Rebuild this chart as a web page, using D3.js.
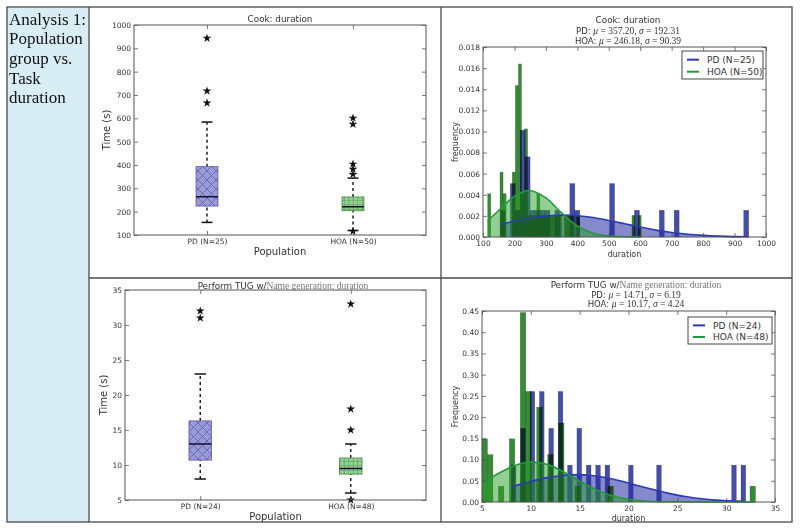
<!DOCTYPE html>
<html><head><meta charset="utf-8">
<script src="https://cdn.jsdelivr.net/npm/d3@7"></script>
<style>
body{margin:0;background:#fff}
svg{display:block}
text{font-family:"DejaVu Sans",sans-serif;fill:#333}
</style>
</head><body>
<svg id="c" width="800" height="531"></svg>
<script>
// ---------------- DATA ----------------
const sideText = ["Analysis 1:", "Population", "group vs.", "Task", "duration"];
const cookLabels = ["PD (N=25)", "HOA (N=50)"];
const tugLabels = ["PD (N=24)", "HOA (N=48)"];
const cookYTicks = [100,200,300,400,500,600,700,800,900,1000];
const tugYTicks = [5,10,15,20,25,30,35];
// box stats: [lower whisker, Q1, median, Q3, upper whisker]
const cookBoxPD = [154, 224, 264, 393, 584];
const cookBoxHOA = [119, 204, 221, 263, 344];
const cookOutPD = [666, 717, 943];
const cookOutHOA = [116, 360, 382, 404, 575, 601];
const tugBoxPD = [8, 10.7, 13, 16.3, 23];
const tugBoxHOA = [6, 8.7, 9.5, 11, 13];
const tugOutPD = [31, 32];
const tugOutHOA = [5, 15, 18, 33];
// histogram samples (durations, s)
const cookPD = [155,190,198,210,220,225,228,232,237,242,247,265,272,290,305,336,380,390,400,508,512,585,668,718,945];
const cookHOA = [115,118,156,159,162,166,170,195,198,201,203,205,206,208,209,210,212,213,214,216,217,218,219,220,222,225,230,233,235,237,238,240,245,256,265,273,278,285,297,306,318,327,335,345,360,372,383,405,577,603];
const tugPD = [8,9,9,10,10,10,11,11,11,12,12,13,13,13,14,15,15,16,17,18,20,23,31,32];
const tugHOA = [5,5,5,5,6,6,6,7,8,8,8,8,9,9,9,9,9,9,9,9,9,9,9,9,10,10,10,10,10,10,10,11,11,11,11,11,11,12,12,12,13,13,13,13,13,15,18,33];
// fitted normal curves [duration, density]
const cookPDCurve = [[155,0.00119],[200,0.00149],[250,0.00178],[300,0.00198],[357,0.00207],[400,0.00202],[450,0.00185],[500,0.00157],[550,0.00126],[600,0.00094],[650,0.00065],[700,0.00042],[750,0.00026],[800,0.00015],[850,0.00008],[900,0.00004],[945,0.00002]];
const cookHOACurve = [[115,0.00154],[150,0.00251],[200,0.00387],[246,0.00441],[300,0.00370],[350,0.00228],[400,0.00104],[450,0.00035],[500,0.00009],[550,0.00002],[603,0.0]];
const tugPDCurve = [[8,0.0358],[9,0.0421],[10,0.0482],[11,0.0539],[12,0.0586],[13,0.0620],[14,0.0640],[15,0.0644],[16,0.0631],[17,0.0602],[18,0.0560],[19,0.0507],[20,0.0447],[21,0.0385],[22,0.0322],[23,0.0263],[24,0.0209],[25,0.0162],[26,0.0122],[27,0.0090],[28,0.0064],[29,0.0045],[30,0.0031],[31,0.0020],[32,0.0013]];
const tugHOACurve = [[5,0.0448],[6,0.0580],[7,0.0712],[8,0.0826],[9,0.0906],[10,0.0940],[11,0.0923],[12,0.0857],[13,0.0753],[14,0.0626],[15,0.0492],[16,0.0366],[17,0.0257],[18,0.0171],[19,0.0108],[20,0.0064],[22,0.0019],[24,0.0005],[27,0.00004],[30,0.0],[33,0.0]];
const cookXTicks = [100,200,300,400,500,600,700,800,900,1000];
const cookFreqTicks = [0,0.002,0.004,0.006,0.008,0.010,0.012,0.014,0.016,0.018];
const tugXTicks = [5,10,15,20,25,30,35];
const tugFreqTicks = [0,0.05,0.10,0.15,0.20,0.25,0.30,0.35,0.40,0.45];

// ---------------- DRAW ----------------
const svg = d3.select("#c");
const defs = svg.append("defs");

// hatch patterns
const pX = defs.append("pattern").attr("id","hatchX").attr("patternUnits","userSpaceOnUse")
  .attr("width",9).attr("height",9);
pX.append("rect").attr("width",9).attr("height",9).attr("fill","#9a9ad6");
pX.append("path").attr("d","M0,0L9,9M9,0L0,9M-1,8L1,10M8,-1L10,1").attr("stroke","#6060b0").attr("stroke-width",0.8);
const pP = defs.append("pattern").attr("id","hatchP").attr("patternUnits","userSpaceOnUse")
  .attr("width",4.5).attr("height",4.5);
pP.append("rect").attr("width",4.5).attr("height",4.5).attr("fill","#98d098");
pP.append("path").attr("d","M0,2.25H4.5M2.25,0V4.5").attr("stroke","#5aa05a").attr("stroke-width",0.7);

// table
svg.append("rect").attr("x",7).attr("y",7).attr("width",82).attr("height",515).attr("fill","#d9edf5");
const tl = svg.append("g").attr("stroke","#4a4a4a").attr("stroke-width",1.3).attr("fill","none");
tl.append("rect").attr("x",7).attr("y",7).attr("width",785).attr("height",515);
tl.append("line").attr("x1",89).attr("x2",89).attr("y1",7).attr("y2",522);
tl.append("line").attr("x1",441).attr("x2",441).attr("y1",7).attr("y2",522);
tl.append("line").attr("x1",89).attr("x2",792).attr("y1",278).attr("y2",278);

svg.append("g").selectAll("text").data(sideText).join("text")
  .attr("x",9).attr("y",(d,i)=>24.5+i*19.7)
  .style("font-family","'Liberation Serif','Times New Roman',serif")
  .style("font-size","17px").style("fill","#111").text(d=>d);

function frameAxes(g, x, y, box, opt){
  const yl = g.append("g").attr("transform",`translate(${box.l},0)`)
    .call(d3.axisLeft(y).tickValues(opt.yTicks).tickFormat(opt.yFmt).tickSize(-4).tickPadding(3));
  const yr = g.append("g").attr("transform",`translate(${box.r},0)`)
    .call(d3.axisRight(y).tickValues(opt.yTicks).tickFormat("").tickSize(-4));
  const xb = g.append("g").attr("transform",`translate(0,${box.b})`)
    .call(d3.axisBottom(x).tickValues(opt.xTicks).tickFormat(opt.xFmt).tickSize(-4).tickPadding(4));
  const xt = g.append("g").attr("transform",`translate(0,${box.t})`)
    .call(d3.axisTop(x).tickValues(opt.xTicks).tickFormat("").tickSize(-4));
  [yl,yr,xb,xt].forEach(a=>{
    a.select(".domain").remove();
    a.selectAll("line").attr("stroke","#444").attr("stroke-width",0.7);
    a.selectAll("text").style("font-size","7.5px").style("fill","#333").style("font-family","'DejaVu Sans',sans-serif");
  });
  g.append("rect").attr("x",box.l).attr("y",box.t).attr("width",box.r-box.l).attr("height",box.b-box.t)
    .attr("fill","none").attr("stroke","#555").attr("stroke-width",1);
}

function boxPanel(o){
  const box = o.box;
  const g = svg.append("g");
  const x = d3.scaleLinear().domain([0.5,2.5]).range([box.l,box.r]);
  const y = d3.scaleLinear().domain(o.yDomain).range([box.b,box.t]);
  const bw = x(1.075)-x(1);
  const fills = ["url(#hatchX)","url(#hatchP)"];
  const edges = ["#5a5aa8","#3f8a3f"];
  o.stats.forEach((s,i)=>{
    const cx = x(i+1);
    g.append("line").attr("x1",cx).attr("x2",cx).attr("y1",y(s[0])).attr("y2",y(s[1]))
      .attr("stroke","#111").attr("stroke-width",1.4).attr("stroke-dasharray","3,3");
    g.append("line").attr("x1",cx).attr("x2",cx).attr("y1",y(s[3])).attr("y2",y(s[4]))
      .attr("stroke","#111").attr("stroke-width",1.4).attr("stroke-dasharray","3,3");
    g.append("rect").attr("x",cx-bw).attr("width",2*bw).attr("y",y(s[3])).attr("height",y(s[1])-y(s[3]))
      .attr("fill",fills[i]).attr("stroke",edges[i]).attr("stroke-width",0.8);
    g.append("line").attr("x1",cx-bw).attr("x2",cx+bw).attr("y1",y(s[2])).attr("y2",y(s[2]))
      .attr("stroke","#101030").attr("stroke-width",1.5);
    [s[0],s[4]].forEach(v=>{
      g.append("line").attr("x1",cx-bw/2).attr("x2",cx+bw/2).attr("y1",y(v)).attr("y2",y(v))
        .attr("stroke","#111").attr("stroke-width",1.5);
    });
    g.selectAll(null).data(o.outliers[i]).join("path")
      .attr("d",d3.symbol(d3.symbolStar,24)())
      .attr("transform",d=>`translate(${cx},${y(d)})`).attr("fill","#111");
  });
  frameAxes(g,x,y,box,{yTicks:o.yTicks,yFmt:d3.format("d"),xTicks:[1,2],xFmt:(d)=>o.labels[d-1]});
  // title & labels
  const t = g.append("text").attr("x",o.titleX).attr("y",o.titleY).attr("text-anchor","middle").style("font-size","8.8px").style("fill","#333");
  o.title.forEach(p=>{
    const ts=t.append("tspan").text(p.t);
    if(p.serif) ts.style("font-family","'Liberation Serif',serif").style("font-size","9.5px").style("fill","#777");
  });
  g.append("text").attr("x",(box.l+box.r)/2).attr("y",o.xlabY).attr("text-anchor","middle")
    .style("font-size","10px").style("fill","#333").text("Population");
  g.append("text").attr("transform",`translate(${o.ylabX},${(box.t+box.b)/2}) rotate(-90)`).attr("text-anchor","middle")
    .style("font-size","10px").style("fill","#333").text("Time (s)");
}

function histPanel(o){
  const box = o.box;
  const g = svg.append("g");
  const x = d3.scaleLinear().domain(o.xDomain).range([box.l,box.r]);
  const y = d3.scaleLinear().domain(o.yDomain).range([box.b,box.t]);
  const series = [
    {data:o.pd, curve:o.pdCurve, bar:"rgba(22,32,150,0.8)", fill:"rgba(35,40,160,0.55)", line:"#2b3bb0", blend:"normal"},
    {data:o.hoa, curve:o.hoaCurve, bar:"rgba(10,115,10,0.82)", fill:"rgba(40,160,40,0.5)", line:"#239a3a", blend:"multiply"}
  ];
  series.forEach(s=>{
    const [mn,mx] = d3.extent(s.data);
    const w = (mx-mn)/50;
    const thr = d3.range(1,50).map(k=>+(mn+k*w).toFixed(6));
    const bins = d3.bin().domain([mn,mx]).thresholds(thr)(s.data).filter(b=>b.length>0);
    const N = s.data.length;
    g.append("g").style("mix-blend-mode",s.blend).selectAll("rect").data(bins).join("rect")
      .attr("x",b=>x(b.x0)).attr("width",b=>x(b.x1)-x(b.x0))
      .attr("y",b=>y(b.length/(N*w))).attr("height",b=>y(0)-y(b.length/(N*w)))
      .attr("fill",s.bar).attr("stroke","rgba(0,0,0,0.35)").attr("stroke-width",0.5);
    g.append("path").datum(s.curve)
      .attr("d",d3.area().x(d=>x(d[0])).y0(y(0)).y1(d=>y(d[1])).curve(d3.curveMonotoneX))
      .attr("fill",s.fill);
  });
  series.forEach(s=>{
    g.append("path").datum(s.curve)
      .attr("d",d3.line().x(d=>x(d[0])).y(d=>y(d[1])).curve(d3.curveMonotoneX))
      .attr("fill","none").attr("stroke",s.line).attr("stroke-width",1.6);
  });
  frameAxes(g,x,y,box,{yTicks:o.yTicks,yFmt:d3.format(o.yFormat),xTicks:o.xTicks,xFmt:d3.format("d")});
  // titles
  const t1 = g.append("text").attr("x",o.titleX).attr("y",o.titleY[0]).attr("text-anchor","middle").style("font-size","8.8px");
  o.title.forEach(p=>{
    const ts=t1.append("tspan").text(p.t);
    if(p.serif) ts.style("font-family","'Liberation Serif',serif").style("font-size","9.5px").style("fill","#777");
  });
  o.stats.forEach((st,i)=>{
    const t = g.append("text").attr("x",o.titleX).attr("y",o.titleY[i+1]).attr("text-anchor","middle").style("font-size","8.5px");
    t.append("tspan").text(st[0]+": ");
    const sf = "font-family:'Liberation Serif',serif;font-size:9.5px;fill:#333";
    t.append("tspan").attr("style",sf+";font-style:italic").text("μ");
    t.append("tspan").attr("style",sf).text(" = "+st[1]+", ");
    t.append("tspan").attr("style",sf+";font-style:italic").text("σ");
    t.append("tspan").attr("style",sf).text(" = "+st[2]);
  });
  g.append("text").attr("x",(box.l+box.r)/2).attr("y",o.xlabY).attr("text-anchor","middle")
    .style("font-size","8px").text("duration");
  g.append("text").attr("transform",`translate(${o.ylabX},${(box.t+box.b)/2}) rotate(-90)`).attr("text-anchor","middle")
    .style("font-size","8px").text(o.ylab);
  // legend
  const L = o.legend;
  g.append("rect").attr("x",L.x).attr("y",L.y).attr("width",L.w).attr("height",L.h)
    .attr("fill","#fff").attr("stroke","#333").attr("stroke-width",0.9);
  o.legendLabels.forEach((lab,i)=>{
    const yy = L.y + L.h*(i===0?0.31:0.74);
    g.append("line").attr("x1",L.x+5).attr("x2",L.x+17).attr("y1",yy).attr("y2",yy)
      .attr("stroke",series[i].line).attr("stroke-width",2);
    g.append("text").attr("x",L.x+25).attr("y",yy+3.3).style("font-size","9px").text(lab);
  });
}

boxPanel({
  box:{l:134,r:426,t:25,b:235}, yDomain:[100,1000], yTicks:cookYTicks,
  stats:[cookBoxPD,cookBoxHOA], outliers:[cookOutPD,cookOutHOA], labels:cookLabels,
  title:[{t:"Cook: duration"}], titleX:280, titleY:22.3, xlabY:254.5, ylabX:110
});
boxPanel({
  box:{l:125,r:426,t:290,b:500}, yDomain:[5,35], yTicks:tugYTicks,
  stats:[tugBoxPD,tugBoxHOA], outliers:[tugOutPD,tugOutHOA], labels:tugLabels,
  title:[{t:"Perform TUG w/"},{t:"Name generation: duration",serif:true}], titleX:283, titleY:288.5, xlabY:520, ylabX:107
});
histPanel({
  box:{l:483,r:766,t:47,b:237}, xDomain:[100,1000], yDomain:[0,0.018],
  xTicks:cookXTicks, yTicks:cookFreqTicks, yFormat:".3f",
  pd:cookPD, hoa:cookHOA, pdCurve:cookPDCurve, hoaCurve:cookHOACurve,
  title:[{t:"Cook: duration"}], stats:[["PD","357.20","192.31"],["HOA","246.18","90.39"]],
  titleX:628, titleY:[23,33.8,44], xlabY:257, ylabX:458, ylab:"frequency",
  legend:{x:682,y:51,w:81,h:28}, legendLabels:["PD (N=25)","HOA (N=50)"]
});
histPanel({
  box:{l:482,r:775,t:311,b:502}, xDomain:[5,35], yDomain:[0,0.45],
  xTicks:tugXTicks, yTicks:tugFreqTicks, yFormat:".2f",
  pd:tugPD, hoa:tugHOA, pdCurve:tugPDCurve, hoaCurve:tugHOACurve,
  title:[{t:"Perform TUG w/"},{t:"Name generation: duration",serif:true}], stats:[["PD","14.71","6.19"],["HOA","10.17","4.24"]],
  titleX:636, titleY:[288,297.6,307], xlabY:520.5, ylabX:458, ylab:"Frequency",
  legend:{x:688,y:317,w:84,h:27}, legendLabels:["PD (N=24)","HOA (N=48)"]
});
</script>
</body></html>
